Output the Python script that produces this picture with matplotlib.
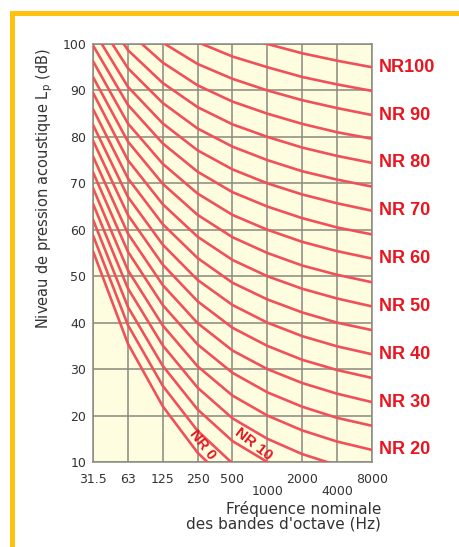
import matplotlib
matplotlib.use("Agg")
import matplotlib.pyplot as plt
from matplotlib.patches import Rectangle

# octave bands (Hz)
bands = ["31.5", "63", "125", "250", "500", "1000", "2000", "4000", "8000"]
nr_levels = [0, 5, 10, 15, 20, 25, 30, 35, 40, 45, 50,
             55, 60, 65, 70, 75, 80, 85, 90, 95, 100]

# sound pressure level per band for each NR curve (dB)
nr0 = [55.4, 35.5, 22.0, 12.0, 4.8, 0.0, -3.5, -6.1, -8.0]
nr5 = [58.8, 39.5, 26.4, 16.7, 9.7, 5.0, 1.6, -1.0, -2.9]
nr10 = [62.2, 43.4, 30.7, 21.3, 14.5, 10.0, 6.7, 4.2, 2.3]
nr15 = [65.6, 47.4, 35.1, 26.0, 19.4, 15.0, 11.7, 9.3, 7.5]
nr20 = [69.0, 51.3, 39.4, 30.6, 24.3, 20.0, 16.8, 14.4, 12.6]
nr25 = [72.4, 55.3, 43.8, 35.3, 29.2, 25.0, 21.9, 19.5, 17.8]
nr30 = [75.8, 59.2, 48.1, 39.9, 34.0, 30.0, 27.0, 24.7, 22.9]
nr35 = [79.2, 63.2, 52.5, 44.6, 38.9, 35.0, 32.0, 29.8, 28.1]
nr40 = [82.6, 67.1, 56.8, 49.2, 43.8, 40.0, 37.1, 34.9, 33.2]
nr45 = [86.0, 71.1, 61.2, 53.9, 48.6, 45.0, 42.2, 40.0, 38.4]
nr50 = [89.5, 75.0, 65.5, 58.5, 53.5, 50.0, 47.3, 45.2, 43.5]
nr55 = [92.9, 79.0, 69.9, 63.2, 58.4, 55.0, 52.3, 50.3, 48.7]
nr60 = [96.3, 82.9, 74.2, 67.8, 63.2, 60.0, 57.4, 55.4, 53.8]
nr65 = [99.7, 86.9, 78.6, 72.5, 68.1, 65.0, 62.5, 60.5, 59.0]
nr70 = [103.1, 90.8, 82.9, 77.1, 73.0, 70.0, 67.6, 65.7, 64.1]
nr75 = [106.5, 94.8, 87.3, 81.8, 77.9, 75.0, 72.6, 70.8, 69.3]
nr80 = [109.9, 98.7, 91.6, 86.4, 82.7, 80.0, 77.7, 75.9, 74.4]
nr85 = [113.3, 102.7, 96.0, 91.1, 87.6, 85.0, 82.8, 81.0, 79.6]
nr90 = [116.7, 106.6, 100.3, 95.7, 92.5, 90.0, 87.9, 86.2, 84.7]
nr95 = [120.1, 110.6, 104.7, 100.4, 97.3, 95.0, 92.9, 91.3, 89.9]
nr100 = [123.5, 114.5, 109.0, 105.0, 102.2, 100.0, 98.0, 96.4, 95.0]

curves = [nr0, nr5, nr10, nr15, nr20, nr25, nr30, nr35, nr40, nr45, nr50,
          nr55, nr60, nr65, nr70, nr75, nr80, nr85, nr90, nr95, nr100]

right_labels = ["NR 20", "NR 30", "NR 40", "NR 50", "NR 60",
                "NR 70", "NR 80", "NR 90", "NR100"]
right_label_levels = [20, 30, 40, 50, 60, 70, 80, 90, 100]

plt.rcParams["font.family"] = ["Liberation Sans", "DejaVu Sans"]

fig = plt.figure(figsize=(4.6, 5.47), dpi=100)
fig.patch.set_facecolor("white")

# yellow frame around the picture
fig.patches.append(Rectangle((12.5 / 460, -0.05), 1.2, 1 - 12.5 / 547 + 0.05,
                             transform=fig.transFigure, fill=False,
                             edgecolor="#FFC20E", linewidth=3.6))

ax = fig.add_axes([93 / 460, 85 / 547, 279 / 460, 418 / 547])
ax.set_facecolor("#FFFDDF")

x = list(range(len(bands)))
curve_col = "#F0505A"
for lvl, c in zip(nr_levels, curves):
    ax.plot(x, c, color=curve_col, lw=1.9, solid_capstyle="round",
            solid_joinstyle="round", zorder=3)

ax.set_xlim(0, len(bands) - 1)
ax.set_ylim(10, 100)
ax.set_yticks(range(10, 101, 10))
ax.set_xticks(x)
ax.set_xticklabels([])
ax.grid(True, color="#8A8A7E", lw=1.1, zorder=1)
ax.set_axisbelow(True)
for s in ax.spines.values():
    s.set_color("#8A8A7E")
    s.set_linewidth(1.1)
ax.tick_params(length=0, pad=5, labelsize=9, labelcolor="#333333")
for t in ax.get_yticklabels():
    t.set_fontfamily("DejaVu Sans")

# staggered x tick labels
for i, b in enumerate(bands):
    off = -0.056 if b in ("1000", "4000") else -0.026
    ax.text(i, off, b, transform=ax.get_xaxis_transform(), ha="center",
            va="top", fontsize=9, color="#333333", family="DejaVu Sans")

# NR labels on the right
for lab, lvl in zip(right_labels, right_label_levels):
    yv = curves[nr_levels.index(lvl)][-1]
    ax.text(len(bands) - 1 + 0.2, yv, lab, ha="left", va="center",
            fontsize=13, fontweight="bold", color="#E8141E", clip_on=False)

ax.text(3.13, 13.7, "NR 0", rotation=-52, ha="center", va="center",
        fontsize=10.5, fontweight="bold", color="#E8141E", zorder=4)
ax.text(4.59, 13.9, "NR 10", rotation=-38, ha="center", va="center",
        fontsize=11, fontweight="bold", color="#E8141E", zorder=4)

fig.text(45 / 460, 1 - 188 / 547,
         "Niveau de pression acoustique L$_\\mathregular{p}$ (dB)",
         rotation=90, ha="center", va="center", fontsize=10.5,
         color="#333333", family="DejaVu Sans")
fig.text(381 / 460, 1 - 516 / 547,
         "Fréquence nominale\ndes bandes d'octave (Hz)",
         ha="right", va="center", multialignment="right",
         fontsize=11, color="#333333", linespacing=0.95,
         family="DejaVu Sans")

fig.savefig("out.png", dpi=100, facecolor="white")
